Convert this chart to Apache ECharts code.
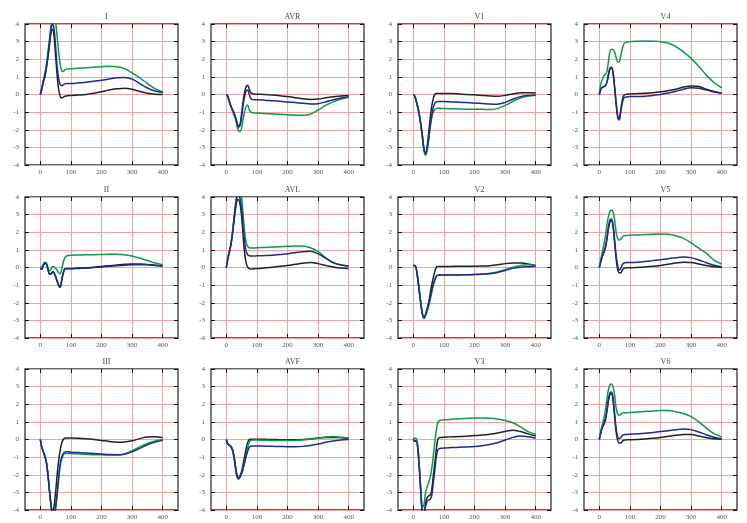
<!DOCTYPE html>
<html><head><meta charset="utf-8">
<script src="https://cdn.jsdelivr.net/npm/echarts@6/dist/echarts.min.js"></script>
<style>html,body{margin:0;padding:0;background:#fff}#c{width:747px;height:523px}</style>
</head><body><div id="c"></div>
<script>
// time axis (ms) shared by all series
const T = [0,5,10,15,20,25,30,35,40,45,50,55,60,65,70,75,80,85,90,100,125,150,175,200,225,250,275,300,325,350,375,400];
const xTicks = [0,100,200,300,400];
const leadNames = ['I','AVR','V1','V4','II','AVL','V2','V5','III','AVF','V3','V6'];

// Lead I
const I_k = [0,0.3,0.7,1.0,1.5,2.1,2.8,3.5,3.7,3.3,2.2,1.1,0.3,-0.1,-0.2,-0.15,-0.1,-0.08,-0.07,-0.05,-0.03,0,0.07,0.15,0.25,0.32,0.36,0.3,0.17,0.07,0.02,0];
const I_b = [0,0.35,0.75,1.1,1.6,2.2,3.0,3.7,4.0,3.7,2.7,1.6,0.9,0.55,0.5,0.55,0.6,0.62,0.62,0.62,0.66,0.7,0.75,0.81,0.88,0.95,0.97,0.87,0.62,0.37,0.2,0.11];
const I_g = [0,0.4,0.8,1.2,1.7,2.4,3.1,3.9,4.3,4.4,4.1,3.3,2.4,1.7,1.35,1.3,1.4,1.44,1.45,1.46,1.49,1.52,1.55,1.58,1.6,1.57,1.47,1.23,0.95,0.62,0.33,0.15];
// AVR
const AVR_k = [0,-0.1,-0.4,-0.65,-0.85,-1.05,-1.3,-1.6,-1.82,-1.7,-1.1,-0.4,0.15,0.45,0.52,0.3,0.1,0.05,0.03,0.02,0,-0.03,-0.07,-0.12,-0.18,-0.24,-0.28,-0.26,-0.19,-0.13,-0.08,-0.05];
const AVR_b = [0,-0.1,-0.4,-0.65,-0.85,-1.05,-1.3,-1.6,-1.85,-1.75,-1.25,-0.6,-0.1,0.2,0.25,0.0,-0.22,-0.28,-0.3,-0.3,-0.32,-0.35,-0.38,-0.42,-0.46,-0.5,-0.54,-0.52,-0.42,-0.3,-0.2,-0.13];
const AVR_g = [0,-0.15,-0.45,-0.7,-0.95,-1.15,-1.4,-1.8,-2.05,-2.1,-1.9,-1.4,-0.95,-0.68,-0.6,-0.85,-1.0,-1.03,-1.05,-1.05,-1.08,-1.1,-1.12,-1.15,-1.17,-1.18,-1.12,-0.88,-0.62,-0.42,-0.26,-0.15];
// V1
const V1_k = [0,-0.1,-0.4,-0.75,-1.2,-1.75,-2.4,-3.1,-3.35,-3.0,-2.2,-1.4,-0.7,-0.25,0,0.05,0.05,0.05,0.05,0.05,0.05,0.03,0,-0.02,-0.05,-0.08,-0.1,-0.05,0.03,0.1,0.1,0.08];
const V1_b = [0,-0.1,-0.4,-0.75,-1.2,-1.75,-2.4,-3.1,-3.35,-3.1,-2.5,-1.8,-1.2,-0.75,-0.5,-0.42,-0.4,-0.4,-0.4,-0.4,-0.42,-0.44,-0.46,-0.48,-0.51,-0.54,-0.55,-0.45,-0.27,-0.12,-0.06,-0.04];
const V1_g = [0,-0.1,-0.4,-0.75,-1.2,-1.75,-2.45,-3.2,-3.45,-3.2,-2.6,-1.9,-1.35,-1.0,-0.85,-0.8,-0.78,-0.78,-0.79,-0.8,-0.81,-0.82,-0.83,-0.83,-0.84,-0.85,-0.8,-0.62,-0.4,-0.2,-0.08,-0.04];
// V4
const V4_k = [0,0.3,0.4,0.45,0.5,0.7,1.1,1.45,1.5,1.2,0.4,-0.5,-1.2,-1.4,-0.9,-0.35,-0.05,0,0.02,0.03,0.05,0.07,0.1,0.15,0.22,0.3,0.42,0.48,0.45,0.3,0.17,0.07];
const V4_b = [0,0.3,0.4,0.45,0.5,0.7,1.15,1.5,1.55,1.25,0.45,-0.5,-1.3,-1.45,-1.0,-0.5,-0.2,-0.15,-0.14,-0.12,-0.11,-0.1,-0.05,0,0.08,0.18,0.3,0.38,0.35,0.25,0.14,0.07];
const V4_g = [0,0.6,0.85,1.05,1.15,1.3,1.9,2.45,2.55,2.55,2.4,2.1,1.85,1.85,2.2,2.6,2.85,2.95,2.97,3.0,3.02,3.03,3.02,3.0,2.92,2.72,2.42,2.05,1.6,1.1,0.68,0.38];
// II
const II_k = [-0.05,-0.1,0.1,0.25,0.2,-0.1,-0.35,-0.35,-0.22,-0.3,-0.5,-0.75,-1.0,-1.1,-0.7,-0.3,-0.08,-0.05,-0.05,-0.05,-0.03,-0.02,0.02,0.06,0.1,0.14,0.18,0.2,0.2,0.17,0.13,0.1];
const II_b = [-0.05,-0.1,0.1,0.25,0.2,-0.1,-0.38,-0.38,-0.25,-0.32,-0.52,-0.78,-1.05,-1.12,-0.72,-0.32,-0.1,-0.07,-0.07,-0.07,-0.05,-0.03,0,0.03,0.07,0.1,0.13,0.15,0.16,0.15,0.12,0.08];
const II_g = [0,0.05,0.2,0.3,0.25,0.0,-0.2,-0.1,0.05,0.03,-0.05,-0.15,-0.3,-0.35,-0.1,0.3,0.55,0.65,0.68,0.7,0.71,0.72,0.73,0.74,0.75,0.75,0.73,0.65,0.53,0.4,0.25,0.15];
// AVL
const AVL_k = [0,0.5,0.9,1.3,1.9,2.6,3.3,3.8,3.85,3.6,2.9,1.8,0.8,0.25,0.02,-0.06,-0.08,-0.08,-0.07,-0.06,-0.03,0.02,0.07,0.12,0.18,0.24,0.28,0.22,0.12,0.03,-0.03,-0.05];
const AVL_b = [0,0.5,0.9,1.3,1.9,2.7,3.5,4.0,4.1,3.9,3.3,2.3,1.4,0.9,0.72,0.67,0.65,0.65,0.65,0.66,0.68,0.7,0.74,0.78,0.84,0.9,0.92,0.78,0.52,0.27,0.14,0.08];
const AVL_g = [0,0.5,0.9,1.3,2.0,2.8,3.6,4.1,4.3,4.4,4.0,3.0,2.0,1.4,1.2,1.12,1.1,1.1,1.1,1.12,1.14,1.16,1.18,1.2,1.22,1.22,1.12,0.9,0.55,0.28,0.14,0.08];
// V2
const V2_k = [0.1,0.12,-0.1,-0.7,-1.4,-2.1,-2.65,-2.88,-2.65,-2.35,-2.0,-1.5,-1.0,-0.6,-0.25,0,0.05,0.05,0.05,0.05,0.06,0.07,0.07,0.07,0.08,0.1,0.15,0.22,0.26,0.25,0.2,0.12];
const V2_b = [0.1,0.12,-0.1,-0.7,-1.4,-2.1,-2.65,-2.88,-2.7,-2.4,-2.1,-1.7,-1.3,-0.95,-0.7,-0.5,-0.43,-0.42,-0.42,-0.42,-0.42,-0.42,-0.41,-0.4,-0.38,-0.35,-0.28,-0.17,-0.05,0.02,0.04,0.05];
const V2_g = [0.1,0.12,-0.1,-0.7,-1.4,-2.1,-2.65,-2.85,-2.7,-2.5,-2.2,-1.85,-1.45,-1.05,-0.75,-0.52,-0.43,-0.42,-0.42,-0.42,-0.42,-0.42,-0.41,-0.4,-0.37,-0.33,-0.25,-0.12,0.02,0.12,0.15,0.08];
// V5
const V5_k = [0,0.35,0.65,0.85,1.1,1.6,2.2,2.6,2.65,2.3,1.4,0.5,-0.1,-0.3,-0.3,-0.15,-0.05,-0.03,-0.02,-0.02,0,0.03,0.07,0.12,0.18,0.25,0.3,0.28,0.2,0.11,0.04,0];
const V5_b = [0,0.35,0.65,0.9,1.2,1.7,2.3,2.7,2.75,2.4,1.6,0.7,0.1,-0.15,-0.05,0.15,0.25,0.27,0.28,0.28,0.3,0.34,0.39,0.44,0.5,0.56,0.6,0.56,0.43,0.27,0.13,0.05];
const V5_g = [0,0.45,0.9,1.3,1.8,2.4,2.9,3.2,3.25,3.15,2.7,2.0,1.65,1.55,1.6,1.72,1.8,1.82,1.82,1.83,1.85,1.87,1.89,1.9,1.88,1.8,1.65,1.4,1.1,0.8,0.42,0.2];
// III
const III_k = [0,-0.45,-0.7,-0.95,-1.3,-2.0,-2.9,-3.7,-4.2,-3.8,-3.0,-2.0,-1.2,-0.6,-0.2,0.0,0.07,0.08,0.08,0.08,0.07,0.04,0,-0.05,-0.11,-0.15,-0.14,-0.07,0.05,0.14,0.15,0.1];
const III_b = [0,-0.45,-0.7,-0.95,-1.3,-2.0,-2.9,-3.7,-4.2,-4.3,-3.8,-3.0,-2.1,-1.4,-1.0,-0.8,-0.72,-0.7,-0.7,-0.72,-0.74,-0.76,-0.79,-0.82,-0.85,-0.87,-0.84,-0.7,-0.5,-0.3,-0.15,-0.05];
const III_g = [0,-0.45,-0.7,-0.95,-1.3,-2.0,-2.9,-3.7,-4.2,-4.4,-4.0,-3.2,-2.3,-1.5,-1.1,-0.88,-0.8,-0.8,-0.8,-0.8,-0.82,-0.84,-0.86,-0.87,-0.88,-0.88,-0.82,-0.65,-0.42,-0.22,-0.08,-0.01];
// AVF
const AVF_k = [0,-0.25,-0.32,-0.38,-0.55,-0.9,-1.5,-2.0,-2.17,-2.05,-1.8,-1.4,-0.95,-0.5,-0.15,0,0.02,0.02,0.02,0.02,0.01,0,-0.01,-0.02,-0.01,0,0.03,0.08,0.11,0.12,0.1,0.07];
const AVF_b = [0,-0.25,-0.32,-0.4,-0.6,-1.0,-1.6,-2.1,-2.25,-2.15,-1.95,-1.65,-1.3,-0.95,-0.65,-0.45,-0.38,-0.37,-0.37,-0.37,-0.38,-0.39,-0.4,-0.41,-0.41,-0.39,-0.34,-0.26,-0.16,-0.08,-0.03,0];
const AVF_g = [0,-0.25,-0.32,-0.4,-0.6,-1.0,-1.6,-2.1,-2.2,-2.1,-1.9,-1.6,-1.25,-0.85,-0.45,-0.15,-0.05,-0.03,-0.03,-0.03,-0.04,-0.05,-0.06,-0.06,-0.05,-0.02,0.02,0.08,0.14,0.17,0.13,0.08];
// V3
const V3_k = [0,-0.1,-0.05,-0.5,-1.6,-3.0,-4.2,-4.3,-3.6,-3.3,-3.2,-3.15,-2.9,-2.1,-1.4,-0.6,0.0,0.1,0.12,0.13,0.15,0.17,0.19,0.22,0.25,0.3,0.37,0.46,0.52,0.45,0.32,0.2];
const V3_b = [0,-0.1,-0.1,-0.6,-1.8,-3.2,-4.3,-4.4,-3.8,-3.5,-3.42,-3.4,-3.2,-2.5,-1.8,-1.0,-0.6,-0.52,-0.5,-0.48,-0.46,-0.44,-0.42,-0.4,-0.35,-0.28,-0.18,-0.03,0.12,0.2,0.15,0.07];
const V3_g = [0,0.08,0.05,-0.5,-1.6,-3.0,-3.85,-3.7,-3.0,-2.7,-2.45,-2.15,-1.7,-1.0,-0.2,0.5,0.95,1.07,1.1,1.12,1.15,1.18,1.2,1.22,1.22,1.2,1.16,1.08,0.95,0.72,0.45,0.3];
// V6
const V6_k = [0,0.4,0.7,0.85,1.1,1.6,2.2,2.55,2.6,2.2,1.3,0.45,-0.05,-0.2,-0.2,-0.1,-0.04,-0.03,-0.02,-0.02,0,0.03,0.07,0.12,0.18,0.24,0.29,0.28,0.2,0.11,0.04,0.02];
const V6_b = [0,0.4,0.7,0.9,1.2,1.7,2.3,2.65,2.7,2.35,1.5,0.6,0.15,0.05,0.12,0.22,0.27,0.28,0.29,0.3,0.32,0.35,0.4,0.45,0.5,0.56,0.6,0.56,0.43,0.27,0.13,0.05];
const V6_g = [0,0.5,0.85,1.2,1.7,2.3,2.85,3.1,3.15,3.0,2.5,1.8,1.45,1.38,1.42,1.5,1.52,1.52,1.52,1.53,1.56,1.59,1.62,1.64,1.64,1.58,1.48,1.3,1.0,0.65,0.33,0.15];

const leadData = [
  [I_k, I_g, I_b], [AVR_k, AVR_g, AVR_b], [V1_k, V1_g, V1_b], [V4_k, V4_g, V4_b],
  [II_k, II_g, II_b], [AVL_k, AVL_g, AVL_b], [V2_k, V2_g, V2_b], [V5_k, V5_g, V5_b],
  [III_k, III_g, III_b], [AVF_k, AVF_g, AVF_b], [V3_k, V3_g, V3_b], [V6_k, V6_g, V6_b]
];
const seriesColors = ['#222222', '#0a9a4a', '#1e2a8c'];

const colLeft = [25, 211, 398, 584];
const rowTop = [24, 197, 369];
const W = 153, H = 141;
const FONT = 'Liberation Serif';
const PINK = '#f3a3a8';

const grid = [], xAxis = [], yAxis = [], series = [], title = [];
leadData.forEach((leads, i) => {
  const r = Math.floor(i / 4), c = i % 4;
  grid.push({ left: colLeft[c], top: rowTop[r], width: W, height: H, show: true,
    borderColor: '#333', borderWidth: 1.3, backgroundColor: 'transparent' });
  title.push({ text: leadNames[i], left: colLeft[c] + W / 2, top: rowTop[r] - 16, textAlign: 'center',
    textStyle: { fontSize: 8, fontWeight: 'normal', color: '#444', fontFamily: FONT } });
  const tick = { show: true, inside: true, length: 4, lineStyle: { color: '#111', width: 1 }, customValues: xTicks };
  const noLine = { show: false, onZero: false };
  xAxis.push({ gridIndex: i, type: 'value', min: -50, max: 450, position: 'bottom',
    axisLine: noLine, axisTick: tick,
    axisLabel: { customValues: xTicks, fontSize: 7, color: '#555', fontFamily: FONT, margin: 4 },
    splitLine: { show: true, lineStyle: { color: PINK, width: 1 } } });
  xAxis.push({ gridIndex: i, type: 'value', min: -50, max: 450, position: 'top',
    axisLine: noLine, axisTick: tick, axisLabel: { show: false }, splitLine: { show: false } });
  const ytick = { show: true, inside: true, length: 4, lineStyle: { color: '#111', width: 1 } };
  yAxis.push({ gridIndex: i, type: 'value', min: -4, max: 4, interval: 1, position: 'left',
    axisLine: noLine, axisTick: ytick,
    axisLabel: { fontSize: 7, color: '#555', fontFamily: FONT, margin: 6 },
    splitLine: { show: true, lineStyle: { color: PINK, width: 1 } } });
  yAxis.push({ gridIndex: i, type: 'value', min: -4, max: 4, interval: 1, position: 'right',
    axisLine: noLine, axisTick: ytick, axisLabel: { show: false }, splitLine: { show: false } });
  leads.forEach((vals, s) => {
    series.push({ type: 'line', xAxisIndex: 2 * i, yAxisIndex: 2 * i,
      data: T.map((t, k) => [t, vals[k]]), smooth: 0.35, showSymbol: false, symbol: 'none',
      clip: true, lineStyle: { color: seriesColors[s], width: 1.5 }, itemStyle: { color: seriesColors[s] },
      animation: false, silent: true });
  });
});

const chart = echarts.init(document.getElementById('c'), null, { renderer: 'canvas' });
chart.setOption({ backgroundColor: '#fff', animation: false, title, grid, xAxis, yAxis, series });
</script></body></html>
